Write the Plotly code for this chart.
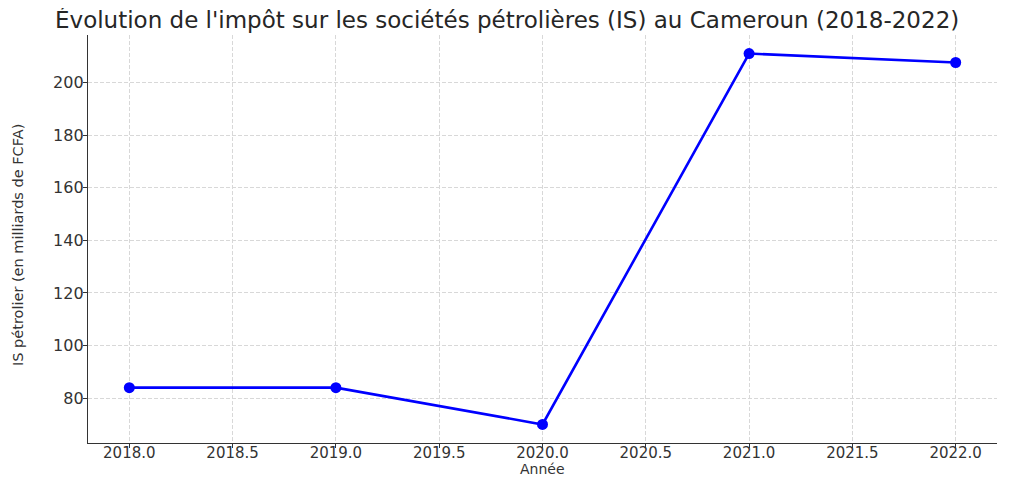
import plotly.graph_objects as go

annees = [2018, 2019, 2020, 2021, 2022]
is_petrolier = [84, 84, 70, 211, 207.6]

x_ticks = [2018.0, 2018.5, 2019.0, 2019.5, 2020.0, 2020.5, 2021.0, 2021.5, 2022.0]
x_labels = ["%.1f" % t for t in x_ticks]
y_ticks = [80, 100, 120, 140, 160, 180, 200]

# the page body has an 8px margin, so the figure is drawn 8px lower and to the right
W, H = 1015, 469
L, R, T, B = 80, 26, 27, 34
plot_w = W - L - R

fig = go.Figure()
fig.add_trace(go.Scatter(
    x=annees, y=is_petrolier,
    mode="lines+markers",
    line=dict(color="#0000ff", width=2.6),
    marker=dict(color="#0000ff", size=11),
    showlegend=False,
))

fig.update_layout(
    width=W, height=H,
    paper_bgcolor="white", plot_bgcolor="white",
    margin=dict(l=L, r=R, t=T, b=B, autoexpand=False),
    font=dict(family="DejaVu Sans", color="#333333"),
    title=dict(
        text="Évolution de l'impôt sur les sociétés pétrolières (IS) au Cameroun (2018-2022)",
        x=47 / W, xref="container", xanchor="left",
        y=1 - 12 / H, yref="container", yanchor="middle",
        font=dict(size=23, color="#262626"),
    ),
    annotations=[
        dict(text="Année", xref="paper", yref="paper", x=0.5, y=0,
             xanchor="center", yanchor="middle", yshift=-26, showarrow=False,
             font=dict(size=14, color="#333333")),
        dict(text="IS pétrolier (en milliards de FCFA)", xref="paper", yref="paper",
             x=-70 / plot_w, y=0.5, xanchor="center", yanchor="middle", yshift=-6,
             textangle=-90, showarrow=False, font=dict(size=14.5, color="#333333")),
    ],
)

fig.update_xaxes(
    range=[2017.8, 2022.2],
    tickvals=x_ticks, ticktext=x_labels,
    tickfont=dict(size=15),
    showgrid=True, gridcolor="#d8d8d8", griddash="4px,2px", gridwidth=1,
    showline=True, linecolor="#333333", linewidth=1.3,
    ticks="outside", ticklen=4, tickcolor="#333333",
    ticklabelstandoff=-8,
    zeroline=False, automargin=False,
)
fig.update_yaxes(
    range=[62.95, 218.05],
    tickvals=y_ticks,
    tickfont=dict(size=16),
    showgrid=True, gridcolor="#d8d8d8", griddash="4px,2px", gridwidth=1,
    showline=True, linecolor="#333333", linewidth=1.3,
    ticks="outside", ticklen=4, tickcolor="#333333",
    ticklabelstandoff=-4,
    zeroline=False, automargin=False,
)

fig.write_html("out.html")
